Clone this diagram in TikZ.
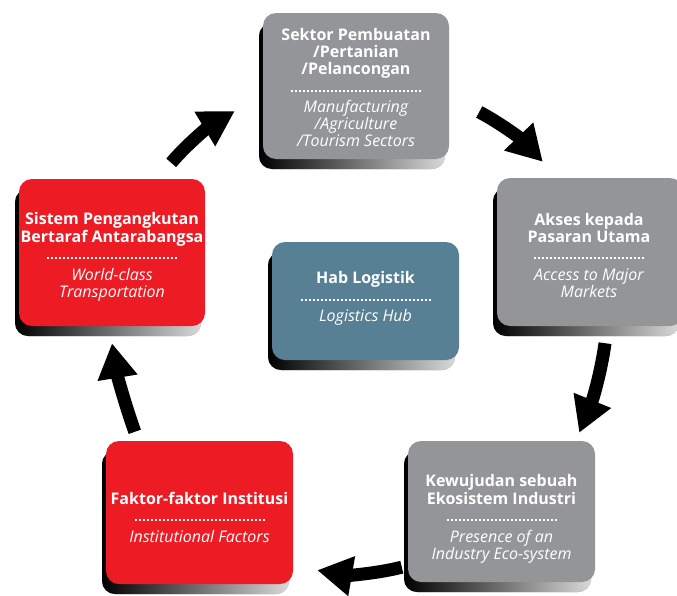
\documentclass[tikz,border=0pt]{standalone}
\usepackage{fontspec}
\usepackage{array}
\setmainfont{Open Sans}
\usetikzlibrary{arrows.meta,shadows}

\definecolor{hubgrey}{RGB}{147,149,152}
\definecolor{hubred}{RGB}{237,28,36}
\definecolor{hubblue}{RGB}{87,128,148}

\newcommand{\dotrule}[1]{\makebox[#1]{\cleaders\hbox to 4pt{\hss\rule{2pt}{2pt}\hss}\hfill}}
\newcommand{\boxtext}[3]{%
	\begin{tabular}[b]{@{}>{\bfseries}c@{}}#1\end{tabular}\\[0pt]%
	\dotrule{#3}\\[4pt]%
	\begin{tabular}[t]{@{}>{\itshape}c@{}}#2\end{tabular}}

\tikzset{
	hubbox/.style={rounded corners=13pt, inner sep=0pt,
		drop shadow={shadow xshift=-4pt, shadow yshift=-10pt, opacity=1,
			left color=black, right color=black!15}},
	greybox/.style={hubbox, fill=hubgrey},
	redbox/.style={hubbox, fill=hubred},
	bluebox/.style={hubbox, fill=hubblue},
	boxlabel/.style={inner sep=0pt, text=white, align=center, font=\fontsize{16}{17}\selectfont},
	flow/.style={line width=13pt, -{Triangle[length=35pt,width=38pt]}}
}

\begin{document}
\begin{tikzpicture}[x=1pt,y=-1pt]
	\useasboundingbox (0,0) rectangle (677,595);
	\clip (0,0) rectangle (677,595);
	
	%boxes
	\node[greybox, minimum width=186pt, minimum height=146pt] (sektor) at (356,86) {};
	\node[greybox, minimum width=186pt, minimum height=148pt] (akses) at (590,252) {};
	\node[greybox, minimum width=187pt, minimum height=141pt] (kewujudan) at (501.5,511.5) {};
	\node[redbox, minimum width=187pt, minimum height=143pt] (faktor) at (199.5,512.5) {};
	\node[redbox, minimum width=186pt, minimum height=147pt] (sistem) at (112,252.5) {};
	\node[bluebox, minimum width=187pt, minimum height=118pt] (hab) at (365.5,301) {};
	
	%texts
	\node[boxlabel] (sektor-text) at ([yshift=-4pt]sektor.center)
		{\boxtext{Sektor Pembuatan\\/Pertanian\\/Pelancongan}{Manufacturing\\/Agriculture\\/Tourism Sectors}{134pt}};
	\node[boxlabel] (akses-text) at ([shift={(-1,6)}]akses.center)
		{\boxtext{Akses kepada\\Pasaran Utama}{Access to Major\\Markets}{112pt}};
	\node[boxlabel] (kewujudan-text) at ([yshift=-8pt]kewujudan.center)
		{\boxtext{Kewujudan sebuah\\Ekosistem Industri}{Presence of an\\Industry Eco-system}{112pt}};
	\node[boxlabel] (faktor-text) at ([yshift=-7pt]faktor.center)
		{\boxtext{Faktor-faktor Institusi}{Institutional Factors}{134pt}};
	\node[boxlabel] (sistem-text) at ([yshift=-5pt]sistem.center)
		{\boxtext{Sistem Pengangkutan\\Bertaraf Antarabangsa}{World-class\\Transportation}{134pt}};
	\node[boxlabel] (hab-text) at ([yshift=2pt]hab.center)
		{\boxtext{Hab Logistik}{Logistics Hub}{134pt}};
	
	%arrows
	\draw[flow] ([shift={(-34,-16)}]sistem.north east) .. controls +(17,-20) and +(-25,15) .. ([shift={(-28,25)}]sektor.west);
	\draw[flow] ([shift={(30,26)}]sektor.east) .. controls +(21,11) and +(-22,-23) .. ([shift={(46,-16)}]akses.north west);
	\draw[flow] ([shift={(15,17)}]akses.south) .. controls +(-3,23) and +(15,-37) .. ([shift={(-16,-8)}]kewujudan.north east);
	\draw[flow] ([shift={(-6,-15)}]kewujudan.south west) .. controls +(-28,7) and +(29,5) .. ([shift={(24,-14)}]faktor.south east);
	\draw[flow] ([shift={(29,-9)}]faktor.north west) .. controls +(-10,-28) and +(5,31) .. ([shift={(0,17)}]sistem.south);
\end{tikzpicture}
\end{document}
